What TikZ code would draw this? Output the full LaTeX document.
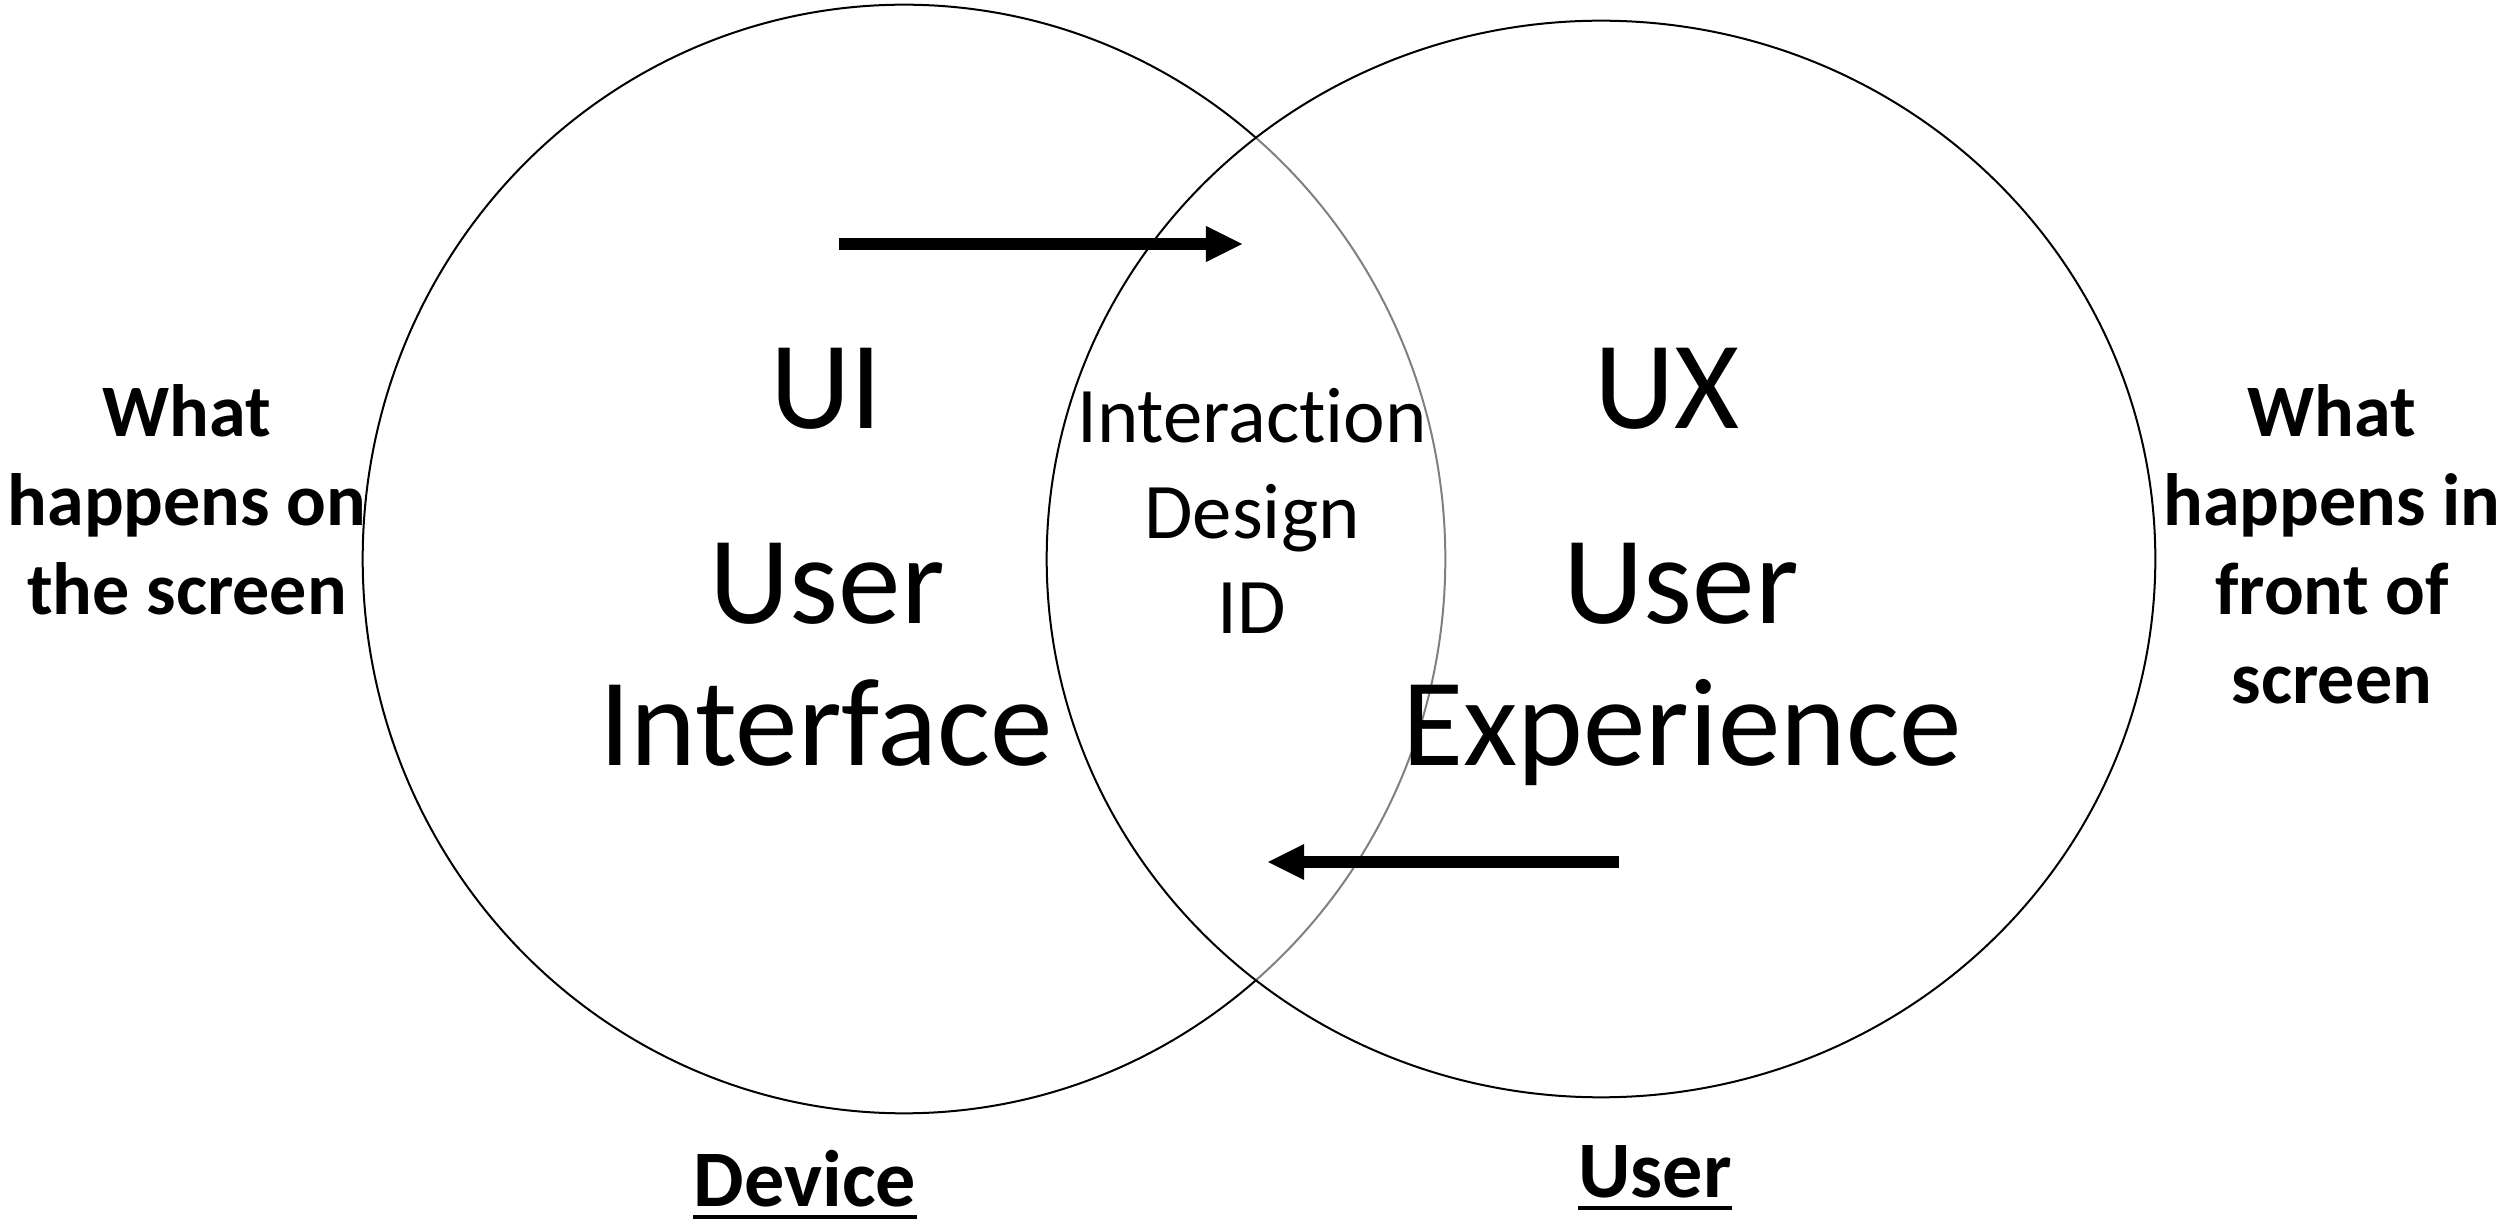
\documentclass[tikz,border=0pt]{standalone}
\usepackage{fontspec}
\setmainfont[Ligatures=NoCommon]{Carlito}
\usetikzlibrary{arrows.meta}
\begin{document}
\begin{tikzpicture}[x=0.01cm, y=-0.01cm,
  ring/.style={line width=0.02cm, draw=black},
  bigtxt/.style={font=\fontsize{35.6}{42}\selectfont, inner sep=0pt, anchor=base},
  midtxt/.style={font=\fontsize{22.4}{27}\selectfont, inner sep=0pt, anchor=base},
  sidetxt/.style={font=\bfseries\fontsize{21.06}{25}\selectfont, inner sep=0pt, anchor=base},
  foottxt/.style={font=\bfseries\fontsize{22.8}{27}\selectfont, inner sep=0pt, anchor=base},
  flow/.style={line width=0.12cm, -{Triangle[length=0.36cm, width=0.36cm, line width=0pt]}},
  uline/.style={line width=0.04cm},
]
\useasboundingbox (0,0) rectangle (2509,1225);

% the two overlapping sets; the right one veils the left outline
\draw[ring] (904,559) ellipse [x radius=5.41cm, y radius=5.54cm];
\draw[ring, fill=white, fill opacity=0.5] (1601,559) ellipse [x radius=5.54cm, y radius=5.38cm];

% left set
\node[bigtxt] (ui)    at (826,429) {UI};
\node[bigtxt] (ui1)   at (827,624) {User};
\node[bigtxt] (ui2)   at (826,765) {Interface};

% right set
\node[bigtxt] (ux)    at (1667,429) {UX};
\node[bigtxt] (ux1)   at (1681,624) {User};
\node[bigtxt] (ux2)   at (1682,765) {Experience};

% overlap
\node[midtxt] (id1) at (1252,443) {Interac\kern0pt tion};
\node[midtxt] (id2) at (1252,539) {Design};
\node[midtxt] (id3) at (1252,634) {ID};

% side captions
\node[sidetxt] (l1) at (187,437) {What};
\node[sidetxt] (l2) at (187,526) {happens on};
\node[sidetxt] (l3) at (187,615) {the screen};

\node[sidetxt] (r1) at (2332,437) {What};
\node[sidetxt] (r2) at (2332,526) {happens in};
\node[sidetxt] (r3) at (2332,615) {front of};
\node[sidetxt] (r4) at (2332,703) {screen};

% underlined footers
\node[foottxt] (dev) at (805,1206) {Device};
\draw[uline] ([yshift=-0.11cm]dev.base west) -- ([yshift=-0.11cm]dev.base east);
\node[foottxt] (usr) at (1655,1197) {User};
\draw[uline] ([yshift=-0.11cm]usr.base west) -- ([yshift=-0.11cm]usr.base east);

% flow arrows
\coordinate (a1s) at (839,244);
\coordinate (a1e) at (1242,244);
\draw[flow] (a1s) -- (a1e);
\coordinate (a2s) at (1619,862);
\coordinate (a2e) at (1268,862);
\draw[flow] (a2s) -- (a2e);
\end{tikzpicture}
\end{document}
